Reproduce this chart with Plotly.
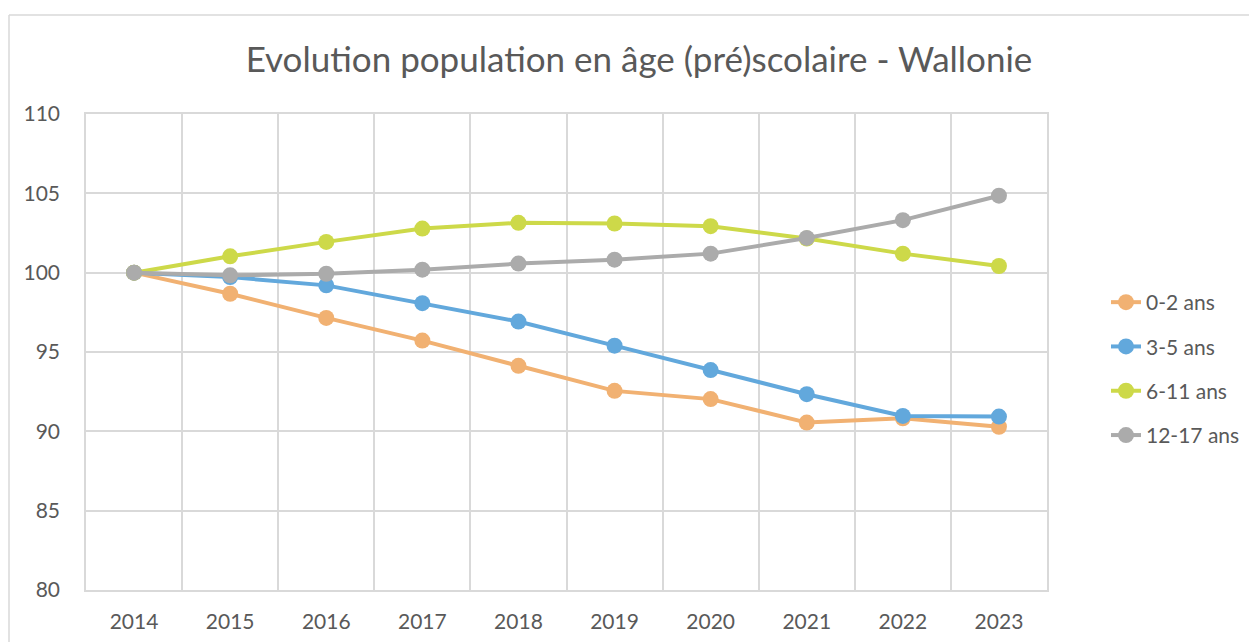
import plotly.graph_objects as go

years = ["2014", "2015", "2016", "2017", "2018", "2019", "2020", "2021", "2022", "2023"]
s_0_2 = [100, 98.67, 97.15, 95.72, 94.13, 92.55, 92.03, 90.55, 90.82, 90.29]
s_3_5 = [100, 99.72, 99.2, 98.08, 96.92, 95.4, 93.86, 92.34, 90.97, 90.93]
s_6_11 = [100, 101.03, 101.94, 102.78, 103.14, 103.1, 102.93, 102.15, 101.2, 100.42]
s_12_17 = [100, 99.83, 99.93, 100.19, 100.57, 100.82, 101.2, 102.19, 103.31, 104.85]

names = ["0-2 ans", "3-5 ans", "6-11 ans", "12-17 ans"]
series = [s_0_2, s_3_5, s_6_11, s_12_17]
colors = ["#F1B172", "#62A8DC", "#CDD949", "#ABABAB"]

W, H = 1257, 642
OFF = 8  # page body margin
# desired plot area in screen pixels: x 86..1047, y 114..590
L = 86 - OFF
T = 114 - OFF
R = W - (1047 - OFF)
B = H - (590 - OFF)
pw = W - L - R
ph = H - T - B

fig = go.Figure()
for i, (n, s, c) in enumerate(zip(names, series, colors)):
    fig.add_trace(go.Scatter(
        x=years, y=s, name=n, mode="lines+markers",
        line=dict(color=c, width=4),
        marker=dict(color=c, size=16),
        legendgroup=f"g{i}",
    ))

font_family = "Lato, 'Open Sans', sans-serif"
txt = "#595959"
grid = "#D9D9D9"

def px_x(x):
    return (x - OFF - L) / pw

def px_y(y):
    return (H - B - (y - OFF)) / ph

fig.update_layout(
    width=W, height=H,
    margin=dict(l=L, r=R, t=T, b=B),
    paper_bgcolor="white", plot_bgcolor="white",
    title=dict(text="Evolution population en âge (pré)scolaire - Wallonie",
               x=(639 - OFF) / W, xanchor="center", y=1 - (60 - OFF) / H, yanchor="middle",
               font=dict(family=font_family, size=35, color=txt)),
    font=dict(family=font_family, size=21, color=txt),
    xaxis=dict(type="category", range=[-0.5, 9.5], showgrid=True, gridcolor=grid,
               gridwidth=1.5, tickson="boundaries", ticks="",
               ticklabelstandoff=12, showline=True,
               linecolor=grid, linewidth=1.5, mirror=True, zeroline=False,
               tickfont=dict(size=21, color=txt)),
    yaxis=dict(range=[80, 110], dtick=5, showgrid=True, gridcolor=grid, gridwidth=1.5,
               showline=True, linecolor=grid, linewidth=1.5, mirror=True,
               zeroline=False, ticks="outside", ticklen=20, tickcolor="rgba(0,0,0,0)",
               tickfont=dict(size=21, color=txt)),
    legend=dict(x=px_x(1106), xanchor="left", y=px_y(369), yanchor="middle",
                font=dict(size=21, color=txt), tracegroupgap=14,
                bgcolor="rgba(0,0,0,0)"),
    showlegend=True,
)

fig.add_shape(type="line", xref="paper", yref="paper",
              x0=px_x(9), x1=px_x(1265), y0=px_y(15), y1=px_y(15),
              line=dict(color="#D9D9D9", width=1.5))
fig.add_shape(type="line", xref="paper", yref="paper",
              x0=px_x(9), x1=px_x(9), y0=px_y(15), y1=px_y(660),
              line=dict(color="#D9D9D9", width=1.5))

fig.write_html("out.html")
